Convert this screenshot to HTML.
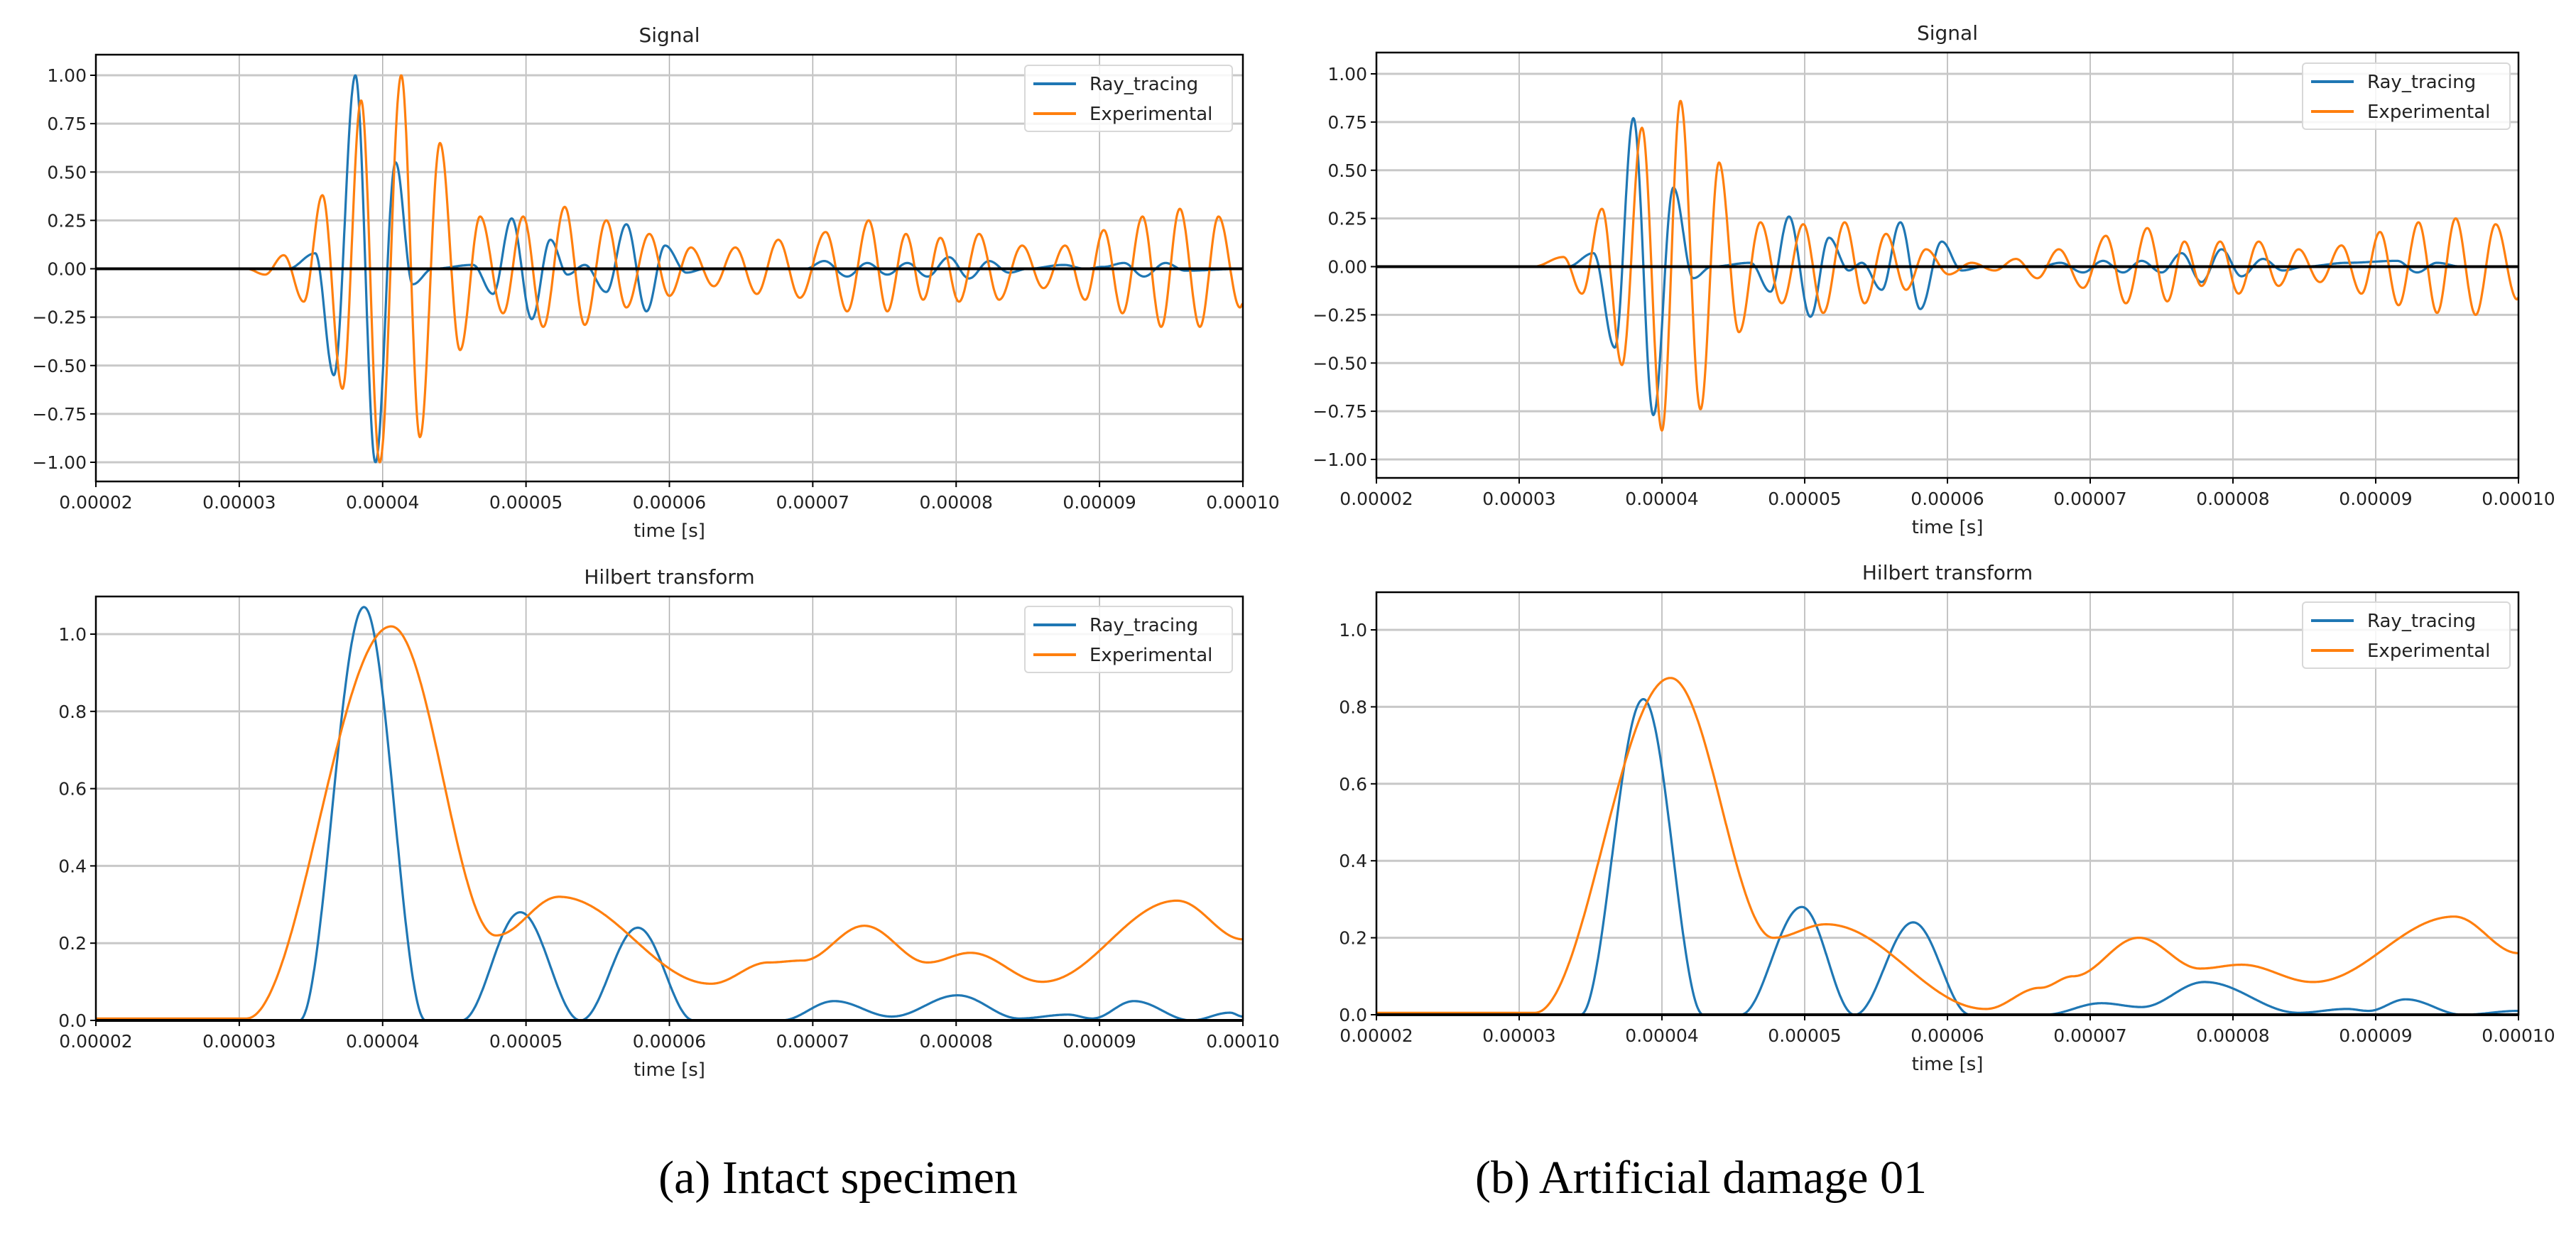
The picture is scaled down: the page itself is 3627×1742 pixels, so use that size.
<!DOCTYPE html>
<html><head><meta charset="utf-8"><title>Signal and Hilbert transform comparison</title>
<style>
html,body{margin:0;padding:0;background:#fff;}
svg{display:block;}
text{font-family:"DejaVu Sans","Liberation Sans",sans-serif;fill:#222;}
.cap{font-family:"Liberation Serif",serif;fill:#000;}
</style></head>
<body>
<svg id="fig" width="3627" height="1742" viewBox="0 0 3627 1742" xmlns="http://www.w3.org/2000/svg">
<text class="cap" x="1180" y="1680" font-size="66" text-anchor="middle">(a) Intact specimen</text>
<text class="cap" x="2395" y="1680" font-size="66" text-anchor="middle">(b) Artificial damage 01</text>
</svg>
<script>
// x ticks in microseconds
const xTicks = [20,30,40,50,60,70,80,90,100];
const xTickLabels = ["0.00002","0.00003","0.00004","0.00005","0.00006","0.00007","0.00008","0.00009","0.00010"];
const sigTicks = [-1,-0.75,-0.5,-0.25,0,0.25,0.5,0.75,1];
const sigTickLabels = ["\u22121.00","\u22120.75","\u22120.50","\u22120.25","0.00","0.25","0.50","0.75","1.00"];
const hilTicks = [0,0.2,0.4,0.6,0.8,1.0];
const hilTickLabels = ["0.0","0.2","0.4","0.6","0.8","1.0"];

// Signal (a) - extrema [time µs, amplitude]
const sigA_ray_t = [20,33.4,35.3,36.6,38.1,39.5,40.9,42.1,43.5,46.3,47.7,49.0,50.4,51.7,52.9,54.1,55.6,57.0,58.4,59.7,61.2,62.5,69.5,70.8,72.4,73.8,75.2,76.6,78.0,79.5,80.9,82.3,83.7,85,87.5,89,90.3,91.7,93.1,94.6,96,100];
const sigA_ray_v = [0,0,0.08,-0.55,1.0,-1.0,0.55,-0.08,0,0.02,-0.13,0.26,-0.26,0.15,-0.03,0.02,-0.12,0.23,-0.22,0.12,-0.02,0,0,0.04,-0.04,0.03,-0.03,0.03,-0.04,0.06,-0.05,0.04,-0.02,0,0.02,0,0.01,0.03,-0.04,0.03,-0.01,0];
const sigA_exp_t = [20,30.5,31.8,33.1,34.5,35.8,37.2,38.5,39.8,41.3,42.6,44.0,45.4,46.8,48.4,49.8,51.2,52.7,54.1,55.6,57.0,58.6,60.0,61.5,63.1,64.6,66.1,67.6,69.1,70.9,72.4,73.9,75.2,76.5,77.7,78.9,80.2,81.6,83.0,84.6,86.1,87.6,89.0,90.3,91.6,93.0,94.3,95.6,97.0,98.3,99.8,100];
const sigA_exp_v = [0,0,-0.03,0.07,-0.17,0.38,-0.62,0.87,-1.0,1.0,-0.87,0.65,-0.42,0.27,-0.23,0.27,-0.30,0.32,-0.29,0.25,-0.20,0.18,-0.14,0.11,-0.09,0.11,-0.13,0.15,-0.15,0.19,-0.22,0.25,-0.22,0.18,-0.16,0.16,-0.17,0.18,-0.16,0.12,-0.10,0.12,-0.16,0.20,-0.23,0.27,-0.30,0.31,-0.30,0.27,-0.20,-0.18];

// Signal (b)
const sigB_ray_t = [20,33.4,35.2,36.7,38.0,39.4,40.8,42.2,43.5,46.2,47.6,48.9,50.4,51.7,53.1,54.0,55.4,56.7,58.1,59.6,61.0,62.5,66.5,67.9,69.5,70.9,72.3,73.6,75.0,76.4,77.8,79.2,80.6,82.1,83.5,85,88,91.5,92.9,94.3,96,100];
const sigB_ray_v = [0,0,0.07,-0.42,0.77,-0.77,0.41,-0.06,0,0.02,-0.13,0.26,-0.26,0.15,-0.02,0.02,-0.12,0.23,-0.22,0.13,-0.02,0,0,0.02,-0.03,0.03,-0.03,0.03,-0.03,0.07,-0.08,0.09,-0.05,0.04,-0.02,0,0.02,0.03,-0.03,0.02,0,0];
const sigB_exp_t = [20,31,33.1,34.4,35.8,37.2,38.6,40.0,41.3,42.7,44.0,45.4,46.9,48.4,49.9,51.3,52.8,54.2,55.7,57.1,58.5,60.1,61.7,63.3,64.8,66.3,67.8,69.5,71.1,72.5,74.0,75.4,76.6,77.8,79.1,80.4,81.8,83.2,84.6,86.1,87.6,89.0,90.3,91.6,93.0,94.3,95.6,97.0,98.4,99.9,100];
const sigB_exp_v = [0,0,0.05,-0.14,0.30,-0.51,0.72,-0.85,0.86,-0.74,0.54,-0.34,0.23,-0.19,0.22,-0.24,0.23,-0.19,0.17,-0.12,0.09,-0.04,0.02,-0.02,0.04,-0.06,0.09,-0.11,0.16,-0.19,0.20,-0.18,0.13,-0.10,0.13,-0.14,0.13,-0.10,0.09,-0.08,0.11,-0.14,0.18,-0.20,0.23,-0.24,0.25,-0.25,0.22,-0.17,-0.16];

// Hilbert (a)
const hilA_ray_t = [20,34.2,38.7,43.0,45.5,49.6,53.8,57.8,61.7,67.8,71.5,75.5,80.1,84.4,87.8,89.5,92.4,96.4,99.1,100];
const hilA_ray_v = [0,0,1.07,0,0,0.28,0,0.24,0,0,0.05,0.01,0.065,0.005,0.015,0.005,0.05,0,0.02,0.01];
const hilA_exp_t = [20,30.5,40.6,47.9,52.3,62.9,66.9,69.3,73.6,78.0,81.0,86.0,95.4,100];
const hilA_exp_v = [0.005,0.005,1.02,0.22,0.32,0.095,0.15,0.155,0.245,0.15,0.175,0.10,0.31,0.21];

// Hilbert (b)
const hilB_ray_t = [20,34.3,38.7,42.9,45.5,49.8,53.5,57.6,61.6,66.8,70.8,73.6,78.0,84.6,88.0,89.5,92.1,96.1,100];
const hilB_ray_v = [0,0,0.82,0,0,0.28,0,0.24,0,0,0.03,0.02,0.085,0.005,0.015,0.01,0.04,0,0.01];
const hilB_exp_t = [20,31.1,40.6,47.8,51.5,62.7,66.5,68.8,73.4,77.7,80.6,85.6,95.5,100];
const hilB_exp_v = [0.005,0.005,0.875,0.2,0.235,0.015,0.07,0.1,0.2,0.12,0.13,0.085,0.255,0.16];

const NS = "http://www.w3.org/2000/svg";
const svg = document.getElementById('fig');
const BLUE = "#1f77b4", ORANGE = "#ff7f0e";

function mk(tag, attrs, parent) {
  const e = document.createElementNS(NS, tag);
  for (const k in attrs) e.setAttribute(k, attrs[k]);
  (parent || svg).appendChild(e);
  return e;
}
function interp(ts, vs, t) {
  if (t <= ts[0]) return vs[0];
  for (let i = 0; i < ts.length - 1; i++) {
    if (t <= ts[i+1]) {
      const s = (t - ts[i]) / (ts[i+1] - ts[i]);
      return vs[i] + (vs[i+1] - vs[i]) * (1 - Math.cos(Math.PI * s)) / 2;
    }
  }
  return vs[vs.length - 1];
}

function panel(p) {
  const g = mk('g', {});
  
  
  const X = t => p.L + (t - 20) / 80 * (p.R - p.L);
  const Y = v => p.y0 + (p.y1 - p.y0) * v;   // y1 = pixel of value 1
  // gridlines
  xTicks.forEach((t, i) => {
    const l = mk('line', {x1: X(t), x2: X(t), y1: p.T, y2: p.B, stroke: '#b0b0b0', 'stroke-width': 1.5}, g);
    
    
    mk('line', {x1: X(t), x2: X(t), y1: p.B, y2: p.B + 8, stroke: '#000', 'stroke-width': 2}, g);
    const tx = mk('text', {x: X(t), y: p.B + 38, 'font-size': 25, 'text-anchor': 'middle'}, g);
    tx.textContent = xTickLabels[i];
    
    
  });
  p.yt.forEach((v, i) => {
    const l = mk('line', {x1: p.L, x2: p.R, y1: Y(v), y2: Y(v), stroke: '#c8c8c8', 'stroke-width': 3}, g);
    
    
    mk('line', {x1: p.L - 8, x2: p.L, y1: Y(v), y2: Y(v), stroke: '#000', 'stroke-width': 2}, g);
    const tx = mk('text', {x: p.L - 13, y: Y(v) + 9, 'font-size': 25, 'text-anchor': 'end'}, g);
    tx.textContent = p.ytl[i];
    
    
  });
  // series
  p.series.forEach(s => {
    let d = '';
    for (let t = 20; t <= 100.0001; t += 0.04) {
      d += (d ? 'L' : 'M') + X(t).toFixed(1) + ',' + Y(interp(s.t, s.v, t)).toFixed(1);
    }
    const path = mk('path', {d: d, fill: 'none', stroke: s.c, 'stroke-width': 3.2, 'stroke-linejoin': 'round'}, g);
    
    
  });
  // zero line
  const z = mk('line', {x1: p.L, x2: p.R, y1: Y(0), y2: Y(0), stroke: '#000', 'stroke-width': 4}, g);
  
  
  // frame
  const fr = mk('rect', {x: p.L, y: p.T, width: p.R - p.L, height: p.B - p.T, fill: 'none', stroke: '#000', 'stroke-width': 2.5}, g);
  
  
  // title
  const ti = mk('text', {x: (p.L + p.R) / 2, y: p.T - 18, 'font-size': 28, 'text-anchor': 'middle'}, g);
  ti.textContent = p.title;
  
  
  const xl = mk('text', {x: (p.L + p.R) / 2, y: p.B + 78, 'font-size': 26, 'text-anchor': 'middle'}, g);
  xl.textContent = 'time [s]';
  
  
  // legend
  const lg = mk('g', {}, g);
  
  
  mk('rect', {x: p.lx, y: p.ly, width: 292, height: 93, rx: 5, fill: '#fff', 'fill-opacity': 0.85, stroke: '#d8d8d8', 'stroke-width': 2}, lg);
  [['Ray_tracing', BLUE], ['Experimental', ORANGE]].forEach((e, i) => {
    const yy = p.ly + 26 + i * 42;
    const ln = mk('line', {x1: p.lx + 12, x2: p.lx + 72, y1: yy, y2: yy, stroke: e[1], 'stroke-width': 4}, lg);
    
    
    const tx = mk('text', {x: p.lx + 91, y: yy + 9, 'font-size': 26}, lg);
    tx.textContent = e[0];
    
    
  });
}

panel({name: 'signal-chart-a', title: 'Signal', L: 135, R: 1750, T: 77, B: 678, y0: 378.5, y1: 106, yt: sigTicks, ytl: sigTickLabels, lx: 1443, ly: 92,
  series: [{n: 'ray-tracing-line', t: sigA_ray_t, v: sigA_ray_v, c: BLUE}, {n: 'experimental-line', t: sigA_exp_t, v: sigA_exp_v, c: ORANGE}]});
panel({name: 'hilbert-chart-a', title: 'Hilbert transform', L: 135, R: 1750, T: 840, B: 1437, y0: 1437, y1: 893, yt: hilTicks, ytl: hilTickLabels, lx: 1443, ly: 854,
  series: [{n: 'ray-tracing-line', t: hilA_ray_t, v: hilA_ray_v, c: BLUE}, {n: 'experimental-line', t: hilA_exp_t, v: hilA_exp_v, c: ORANGE}]});
panel({name: 'signal-chart-b', title: 'Signal', L: 1938, R: 3546, T: 74, B: 673, y0: 375.5, y1: 104, yt: sigTicks, ytl: sigTickLabels, lx: 3242, ly: 89,
  series: [{n: 'ray-tracing-line', t: sigB_ray_t, v: sigB_ray_v, c: BLUE}, {n: 'experimental-line', t: sigB_exp_t, v: sigB_exp_v, c: ORANGE}]});
panel({name: 'hilbert-chart-b', title: 'Hilbert transform', L: 1938, R: 3546, T: 834, B: 1429, y0: 1429, y1: 887, yt: hilTicks, ytl: hilTickLabels, lx: 3242, ly: 848,
  series: [{n: 'ray-tracing-line', t: hilB_ray_t, v: hilB_ray_v, c: BLUE}, {n: 'experimental-line', t: hilB_exp_t, v: hilB_exp_v, c: ORANGE}]});
</script>
</body></html>
